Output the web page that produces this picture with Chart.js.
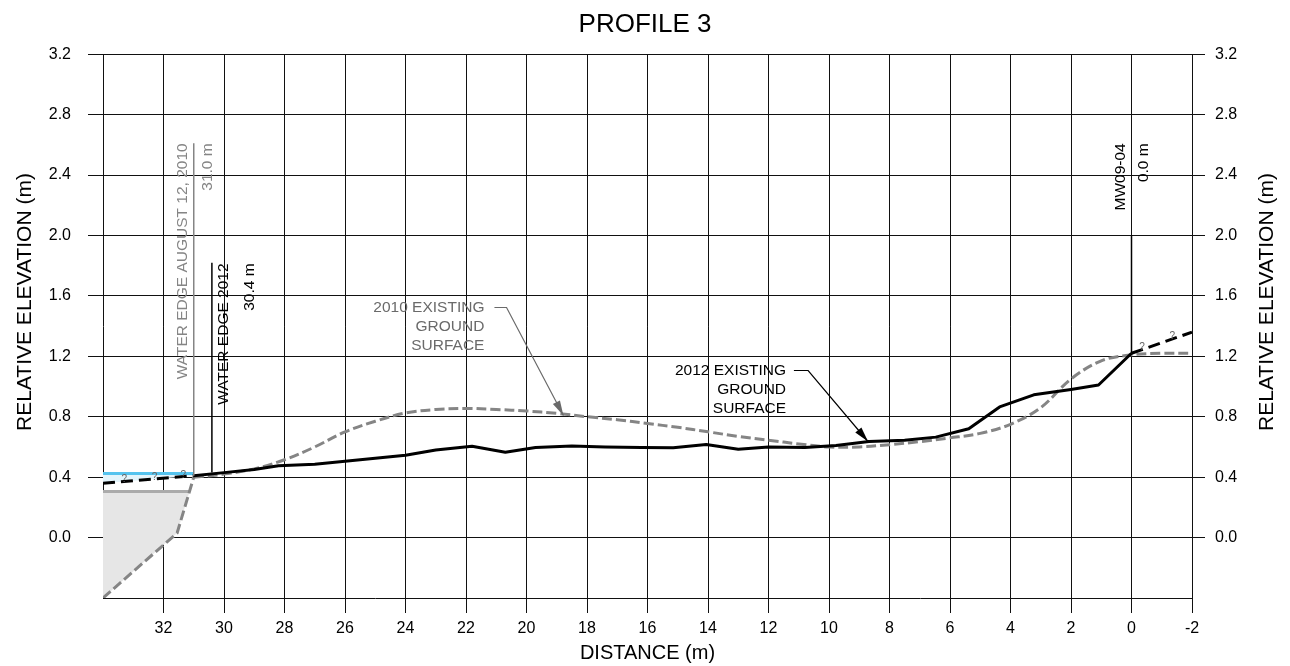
<!DOCTYPE html>
<html><head><meta charset="utf-8">
<script src="https://cdn.jsdelivr.net/npm/chart.js@4/dist/chart.umd.min.js"></script>
<style>html,body{margin:0;padding:0;background:#fff;}</style>
</head><body>
<canvas id="c" width="1290" height="666"></canvas>
<script>
// ---- tick labels ----
const xTicks = [32, 30, 28, 26, 24, 22, 20, 18, 16, 14, 12, 10, 8, 6, 4, 2, 0, -2];
const yTicks = [0.0, 0.4, 0.8, 1.2, 1.6, 2.0, 2.4, 2.8, 3.2];

// ---- 2012 existing ground surface ----
const dist2012 = [31.0, 30.0, 29.0, 28.2, 27.0, 26.0, 25.0, 24.0, 23.0, 21.8, 20.7, 19.7, 18.5, 17.4, 16.2, 15.15, 14.06, 13.0, 12.0, 10.8, 9.77, 8.68, 7.5, 6.47, 5.38, 4.36, 3.23, 2.0, 1.09, 0.0];
const elev2012 = [0.41, 0.43, 0.45, 0.475, 0.485, 0.505, 0.525, 0.545, 0.58, 0.605, 0.565, 0.597, 0.607, 0.60, 0.597, 0.595, 0.616, 0.585, 0.60, 0.597, 0.61, 0.636, 0.645, 0.665, 0.72, 0.865, 0.945, 0.98, 1.01, 1.22];
const dist2012Left = [34, 31.0];
const elev2012Left = [0.36, 0.41];
const dist2012Right = [0.0, -2];
const elev2012Right = [1.22, 1.36];

// ---- 2010 existing ground surface ----
const dist2010Bank = [34, 31.55, 31.0];
const elev2010Bank = [-0.4, 0.03, 0.40];
const dist2010 = [31.0, 30.0, 29.0, 28.0, 27.0, 26.0, 25.0, 24.0, 23.0, 22.0, 21.0, 20.0, 19.0, 18.0, 17.0, 16.0, 15.0, 14.0, 13.0, 12.0, 11.0, 10.0, 9.0, 8.0, 7.0, 6.0, 5.0, 4.0, 3.0, 2.0, 1.0, 0.0, -1.0, -2.0];
const elev2010 = [0.40, 0.42, 0.455, 0.515, 0.60, 0.70, 0.77, 0.825, 0.848, 0.855, 0.848, 0.838, 0.822, 0.80, 0.78, 0.755, 0.73, 0.70, 0.67, 0.645, 0.62, 0.60, 0.60, 0.615, 0.635, 0.66, 0.69, 0.75, 0.86, 1.05, 1.17, 1.21, 1.22, 1.22];

// ---- water levels ----
const distWater2010 = [34, 31.0];
const elevWater2010 = [0.425, 0.425];
const distWaterGray = [34, 31.14];
const elevWaterGray = [0.305, 0.305];
const distSubmerged = [34, 31.14, 31.55, 34];
const elevSubmerged = [0.305, 0.305, 0.03, -0.4];
const distWaterBand = [34, 31.0, 31.0, 34];
const elevWaterBand = [0.425, 0.425, 0.41, 0.36];

// ---- vertical markers ----
const markerDist = [31.0, 30.4, 0.0];
const markerTop = [2.61, 1.82, 2.0];
const markerBottom = [0.41, 0.43, 1.22];

const pts = (xs, ys) => xs.map((x, i) => ({x: x, y: ys[i]}));

Chart.defaults.font.family = "'Liberation Sans', Arial, sans-serif";
Chart.defaults.color = '#000';

const GRAY = '#858585';

const annotations = {
  id: 'annotations',
  afterDatasetsDraw(chart) {
    const ctx = chart.ctx, xs = chart.scales.x, ys = chart.scales.y;
    const X = v => xs.getPixelForValue(v), Y = v => ys.getPixelForValue(v);
    ctx.save();
    // vertical marker lines
    const mColors = [GRAY, '#000', '#000'];
    markerDist.forEach((d, i) => {
      ctx.strokeStyle = mColors[i]; ctx.lineWidth = 1.5;
      ctx.beginPath(); ctx.moveTo(X(d), Y(markerTop[i])); ctx.lineTo(X(d), Y(markerBottom[i])); ctx.stroke();
    });
    // rotated labels
    const rot = (text, px, topPx, color) => {
      ctx.save(); ctx.translate(px, topPx); ctx.rotate(-Math.PI / 2);
      ctx.font = "15.5px 'Liberation Sans', Arial, sans-serif";
      ctx.fillStyle = color; ctx.textAlign = 'right'; ctx.textBaseline = 'middle';
      ctx.fillText(text, 0, 0); ctx.restore();
    };
    rot('WATER EDGE AUGUST 12, 2010', X(31.0) - 11, Y(2.61), GRAY);
    rot('31.0 m', X(31.0) + 14, Y(2.61), GRAY);
    rot('WATER EDGE 2012', X(30.4) + 12, Y(1.815), '#000');
    rot('30.4 m', X(30.4) + 38, Y(1.815), '#000');
    rot('MW09-04', X(0) - 11, Y(2.61), '#000');
    rot('0.0 m', X(0) + 12, Y(2.61), '#000');

    // callouts
    const callout = (lines, tx, ty, leader, color) => {
      ctx.font = "15.5px 'Liberation Sans', Arial, sans-serif";
      ctx.fillStyle = color; ctx.textAlign = 'right'; ctx.textBaseline = 'middle';
      lines.forEach((l, i) => ctx.fillText(l, X(tx), Y(ty) + i * 19));
      ctx.strokeStyle = color; ctx.lineWidth = 1.2;
      ctx.beginPath();
      leader.forEach((p, i) => { const px = X(p[0]), py = Y(p[1]); if (i) ctx.lineTo(px, py); else ctx.moveTo(px, py); });
      ctx.stroke();
      const a = leader[leader.length - 2], b = leader[leader.length - 1];
      const ax = X(a[0]), ay = Y(a[1]), bx = X(b[0]), by = Y(b[1]);
      const ang = Math.atan2(by - ay, bx - ax), L = 15, W = 4;
      ctx.beginPath();
      ctx.moveTo(bx, by);
      ctx.lineTo(bx - L * Math.cos(ang) + W * Math.sin(ang), by - L * Math.sin(ang) - W * Math.cos(ang));
      ctx.lineTo(bx - L * Math.cos(ang) - W * Math.sin(ang), by - L * Math.sin(ang) + W * Math.cos(ang));
      ctx.closePath(); ctx.fill();
    };
    callout(['2010 EXISTING', 'GROUND', 'SURFACE'], 21.39, 1.523, [[21.06, 1.523], [20.66, 1.523], [18.78, 0.808]], '#6a6a6a');
    callout(['2012 EXISTING', 'GROUND', 'SURFACE'], 11.42, 1.106, [[11.16, 1.106], [10.69, 1.106], [8.71, 0.636]], '#000');

    // question marks on inferred segments
    ctx.font = "10px 'Liberation Sans', Arial, sans-serif";
    ctx.fillStyle = '#666'; ctx.textAlign = 'center'; ctx.textBaseline = 'middle';
    [[33.3, 0.385], [32.3, 0.40], [31.35, 0.415], [-0.35, 1.26], [-1.35, 1.33]].forEach(p => ctx.fillText('?', X(p[0]), Y(p[1])));

    // y axis titles (both read bottom to top)
    ctx.font = "21px 'Liberation Sans', Arial, sans-serif";
    ctx.fillStyle = '#000'; ctx.textAlign = 'center'; ctx.textBaseline = 'middle';
    [25.5, 1267].forEach(px => {
      ctx.save(); ctx.translate(px, 302); ctx.rotate(-Math.PI / 2);
      ctx.fillText('RELATIVE ELEVATION (m)', 0, 0); ctx.restore();
    });
    ctx.restore();
  }
};

const yTickBuild = s => { s.ticks = yTicks.map(v => ({value: v})); };

new Chart(document.getElementById('c'), {
  type: 'scatter',
  data: {
    datasets: [
      {data: pts(dist2012, elev2012), showLine: true, borderColor: '#000', borderWidth: 3, pointRadius: 0, borderJoinStyle: 'round', tension: 0},
      {data: pts(dist2012Left, elev2012Left), showLine: true, borderColor: '#000', borderWidth: 3, borderDash: [12, 6], pointRadius: 0},
      {data: pts(dist2012Right, elev2012Right), showLine: true, borderColor: '#000', borderWidth: 3, borderDash: [12, 6], pointRadius: 0},
      {data: pts(dist2010, elev2010), showLine: true, borderColor: GRAY, borderWidth: 3, borderDash: [10, 4], pointRadius: 0, tension: 0.35},
      {data: pts(dist2010Bank, elev2010Bank), showLine: true, borderColor: GRAY, borderWidth: 3, borderDash: [10, 4], pointRadius: 0, tension: 0},
      {data: pts(distWater2010, elevWater2010), showLine: true, borderColor: '#55c3ee', borderWidth: 3, pointRadius: 0},
      {data: pts(distWaterGray, elevWaterGray), showLine: true, borderColor: '#ababab', borderWidth: 3, pointRadius: 0},
      {data: pts(distWaterBand, elevWaterBand), showLine: true, borderWidth: 0, borderColor: 'rgba(0,0,0,0)', backgroundColor: '#e3f4fb', fill: 'shape', pointRadius: 0},
      {data: pts(distSubmerged, elevSubmerged), showLine: true, borderWidth: 0, borderColor: 'rgba(0,0,0,0)', backgroundColor: '#e6e6e6', fill: 'shape', pointRadius: 0}
    ]
  },
  options: {
    responsive: false, animation: false, events: [],
    layout: {padding: 0},
    plugins: {
      legend: {display: false}, tooltip: {enabled: false},
      title: {display: true, text: 'PROFILE 3', color: '#000', font: {size: 26, weight: 'normal'}, padding: {top: 9, bottom: 14}}
    },
    scales: {
      x: {
        type: 'linear', reverse: true, min: -2, max: 34, position: 'bottom',
        afterBuildTicks: s => { s.ticks = xTicks.map(v => ({value: v})); },
        afterFit: s => { s.height = 68; },
        grid: {color: '#111', lineWidth: 1, tickLength: 15},
        border: {color: '#111', width: 1},
        ticks: {color: '#000', font: {size: 16}, padding: 6, maxRotation: 0, autoSkip: false, callback: v => String(v)},
        title: {display: true, text: 'DISTANCE (m)', color: '#000', font: {size: 20}, padding: {top: 0, bottom: 1}}
      },
      y: {
        type: 'linear', min: -0.4, max: 3.2, position: 'left',
        afterBuildTicks: yTickBuild,
        afterFit: s => { s.width = 103; },
        grid: {color: '#111', lineWidth: 1, tickLength: 15},
        border: {color: '#111', width: 1},
        ticks: {color: '#000', font: {size: 16}, padding: 17, callback: v => Number(v).toFixed(1)}
      },
      y2: {
        type: 'linear', min: -0.4, max: 3.2, position: 'right',
        afterBuildTicks: yTickBuild,
        afterFit: s => { s.width = 98; },
        grid: {drawOnChartArea: false, color: '#111', lineWidth: 1, tickLength: 13},
        border: {color: '#111', width: 1},
        ticks: {color: '#000', font: {size: 16}, padding: 10, callback: v => Number(v).toFixed(1)}
      }
    }
  },
  plugins: [annotations]
});
</script>
</body></html>
